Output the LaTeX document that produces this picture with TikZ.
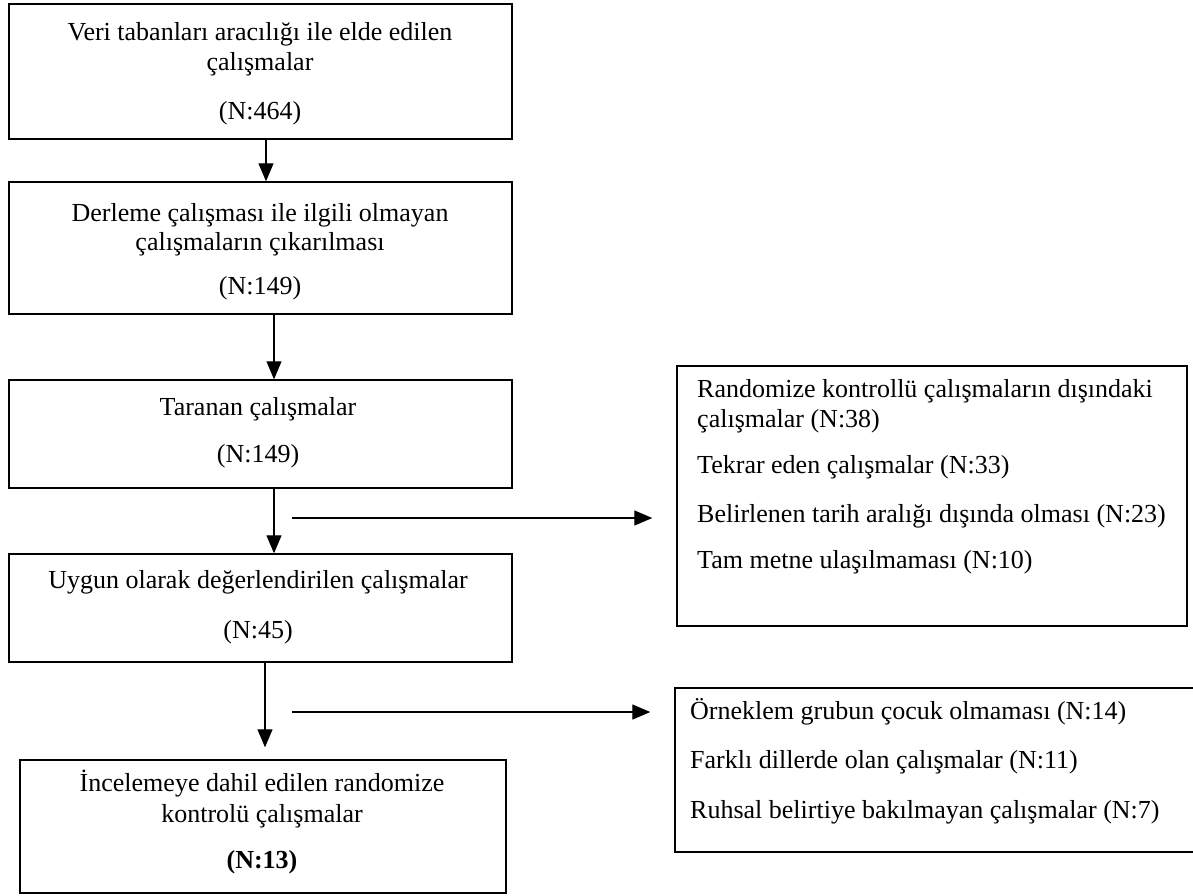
\documentclass[tikz,border=0pt]{standalone}
\usepackage{fontspec}
\setmainfont{Liberation Serif}
\usetikzlibrary{arrows.meta,calc}
\begin{document}
\begin{tikzpicture}[x=1pt,y=-1pt,
  frame/.style={draw=black,line width=1.4pt,inner sep=0pt},
  txt/.style={inner sep=0pt,text height=17.5pt,text depth=5.5pt,font=\fontsize{26}{30}\selectfont},
  ltxt/.style={txt,anchor=west},
  arr/.style={line width=1.3pt,-{Triangle[length=18pt,width=15pt]}}]
\useasboundingbox (0,0) rectangle (1193,895);
% left column boxes
\node[frame,minimum width=503pt,minimum height=135pt] (b1) at (260.5,71.5) {};
\node[frame,minimum width=503pt,minimum height=132pt] (b2) at (260.5,248) {};
\node[frame,minimum width=503pt,minimum height=108pt] (b3) at (260.5,434) {};
\node[frame,minimum width=503pt,minimum height=108pt] (b4) at (260.5,608) {};
\node[frame,minimum width=486pt,minimum height=133pt] (b5) at (263,826.5) {};
% right boxes
\node[frame,minimum width=510pt,minimum height=260pt] (r1) at (932,496) {};
\node[frame,minimum width=530pt,minimum height=164pt] (r2) at (940,770) {};
% texts
\node[txt] (t1a) at (260,34) {Veri tabanları aracılığı ile elde edilen};
\node[txt] (t1b) at (260,64) {çalışmalar};
\node[txt] (t1c) at (260,113) {(N:464)};
\node[txt] (t2a) at (260,215) {Derleme çalışması ile ilgili olmayan};
\node[txt] (t2b) at (260,244) {çalışmaların çıkarılması};
\node[txt] (t2c) at (260,288) {(N:149)};
\node[txt] (t3a) at (258,409) {Taranan çalışmalar};
\node[txt] (t3b) at (258,456) {(N:149)};
\node[txt] (t4a) at (258,582) {Uygun olarak değerlendirilen çalışmalar};
\node[txt] (t4b) at (258,632) {(N:45)};
\node[txt] (t5a) at (262,785) {İncelemeye dahil edilen randomize};
\node[txt] (t5b) at (262,816) {kontrolü çalışmalar};
\node[txt] (t5c) at (262,862) {\textbf{(N:13)}};
\node[ltxt] (r1a) at (697,391) {Randomize kontrollü çalışmaların dışındaki};
\node[ltxt] (r1b) at (697,421) {çalışmalar (N:38)};
\node[ltxt] (r1c) at (697,467) {Tekrar eden çalışmalar (N:33)};
\node[ltxt] (r1d) at (697,516) {Belirlenen tarih aralığı dışında olması (N:23)};
\node[ltxt] (r1e) at (697,562) {Tam metne ulaşılmaması (N:10)};
\node[ltxt] (r2a) at (690,713) {Örneklem grubun çocuk olmaması (N:14)};
\node[ltxt] (r2b) at (690,762) {Farklı dillerde olan çalışmalar (N:11)};
\node[ltxt] (r2c) at (690,812) {Ruhsal belirtiye bakılmayan çalışmalar (N:7)};
% connectors
\draw[arr] (266,0 |- b1.south) -- (266,0 |- b2.north);
\draw[arr] (274,0 |- b2.south) -- (274,0 |- b3.north);
\draw[arr] (274,0 |- b3.south) -- (274,0 |- b4.north);
\coordinate (e4) at ($(265,0 |- b5.north)+(0,-12)$);
\draw[arr] (265,0 |- b4.south) -- (e4);
\coordinate (s1) at (292,518);
\coordinate (e1) at ($(r1.west |- s1)+(-24,0)$);
\draw[arr] (s1) -- (e1);
\coordinate (s2) at (292,712);
\coordinate (e2) at ($(r2.west |- s2)+(-24,0)$);
\draw[arr] (s2) -- (e2);
\end{tikzpicture}
\end{document}
